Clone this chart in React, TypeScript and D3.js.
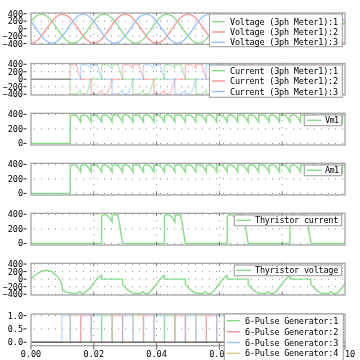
import React from "react";
import * as d3 from "d3";

// ---------------- data ----------------
const timeTicks = [0, 0.02, 0.04, 0.06, 0.08, 0.1];
const timeTickLabels = ["0.00", "0.02", "0.04", "0.06", "0.08", "0.10"];

// three-phase voltages, read every 1/600 s (30 electrical degrees)
const voltageStep = 1 / 600;
const voltage1 = [
  195, 338, 390, 338, 195, 0, -195, -338, -390, -338, -195, 0,
  195, 338, 390, 338, 195, 0, -195, -338, -390, -338, -195, 0,
  195, 338, 390, 338, 195, 0, -195, -338, -390, -338, -195, 0,
  195, 338, 390, 338, 195, 0, -195, -338, -390, -338, -195, 0,
  195, 338, 390, 338, 195, 0, -195, -338, -390, -338, -195, 0,
  195,
];
const voltage2 = [
  -390, -338, -195, 0, 195, 338, 390, 338, 195, 0, -195, -338,
  -390, -338, -195, 0, 195, 338, 390, 338, 195, 0, -195, -338,
  -390, -338, -195, 0, 195, 338, 390, 338, 195, 0, -195, -338,
  -390, -338, -195, 0, 195, 338, 390, 338, 195, 0, -195, -338,
  -390, -338, -195, 0, 195, 338, 390, 338, 195, 0, -195, -338,
  -390,
];
const voltage3 = [
  195, 0, -195, -338, -390, -338, -195, 0, 195, 338, 390, 338,
  195, 0, -195, -338, -390, -338, -195, 0, 195, 338, 390, 338,
  195, 0, -195, -338, -390, -338, -195, 0, 195, 338, 390, 338,
  195, 0, -195, -338, -390, -338, -195, 0, 195, 338, 390, 338,
  195, 0, -195, -338, -390, -338, -195, 0, 195, 338, 390, 338,
  195,
];

// rectifier timing
const firstPulseTime = 0.0098;
const conductionStart = 0.0125;
const pulseInterval = 1 / 300;
const segmentCount = 27;
const gateOrder = [3, 4, 5, 6, 1, 2];

// one 60-degree interval of output ripple (fraction of interval -> value)
const scallopFrac = [0, 0.12, 0.25, 0.4, 0.55, 0.7, 0.85, 1];
const loadScallop = [376, 388, 394, 393, 382, 361, 331, 294];
const blockEndScallop = [376, 388, 394, 393, 378, 280, 130, 0];

// sign of each phase current in each 60-degree interval
const current1Signs = [-1, -1, 0, 1, 1, 0, -1, -1, 0, 1, 1, 0, -1, -1, 0, 1, 1, 0, -1, -1, 0, 1, 1, 0, -1, -1, 0];
const current2Signs = [1, 0, -1, -1, 0, 1, 1, 0, -1, -1, 0, 1, 1, 0, -1, -1, 0, 1, 1, 0, -1, -1, 0, 1, 1, 0, -1];
const current3Signs = [0, 1, 1, 0, -1, -1, 0, 1, 1, 0, -1, -1, 0, 1, 1, 0, -1, -1, 0, 1, 1, 0, -1, -1, 0, 1, 1];

// thyristor voltage before first firing
const thyPreTime = [0, 0.00167, 0.00333, 0.005, 0.00667, 0.0083, 0.0097, 0.0101, 0.0115, 0.013, 0.0145, 0.0154, 0.0166, 0.0188, 0.0209, 0.0224];
const thyPreVolt = [10, 130, 210, 235, 200, 80, -90, -300, -350, -375, -380, -330, -390, -240, 0, 100];
// blocking interval after turn-off (ms after turn-off -> value)
const thyOffMs = [0, 0.96, 1.78, 2.87, 3.92, 5.1, 6.05, 6.37, 7.0, 7.64, 8.6, 9.75, 10.8, 11.9, 13.15, 13.3];
const thyOffVolt = [-140, -230, -300, -350, -375, -385, -360, -330, -370, -390, -350, -240, -130, 0, 100, 100];
const thyFirings = [0.0225, 0.0425, 0.0625, 0.0825];

const green = "#88dd88";
const red = "#ff9494";
const blue = "#94c2ff";
const gateColors = ["#88dd88", "#ff9494", "#94c2ff", "#dcc88c", "#ff88c8", "#80e0e0"];

// ---------------- series builders ----------------
type Pt = [number, number];
const segStart = (k: number) => conductionStart + k * pulseInterval;

function sampled(values: number[]): Pt[] {
  return values.map((v, i) => [i * voltageStep, v] as Pt);
}

function loadSeries(): Pt[] {
  const pts: Pt[] = [[0, 0], [segStart(0), 0]];
  for (let k = 0; k < segmentCount; k++) {
    scallopFrac.forEach((f, j) => pts.push([segStart(k) + f * pulseInterval, loadScallop[j]]));
  }
  return pts;
}

function phaseCurrent(signs: number[]): Pt[] {
  const pts: Pt[] = [[0, 0], [segStart(0), 0]];
  for (let k = 0; k < signs.length; k++) {
    const s = signs[k];
    const t0 = segStart(k);
    if (s === 0) {
      pts.push([t0, 0], [t0 + pulseInterval, 0]);
      continue;
    }
    if (k === 0 || signs[k - 1] !== s) pts.push([t0, 0]);
    const isEnd = k + 1 >= signs.length || signs[k + 1] !== s;
    const tpl = isEnd ? blockEndScallop : loadScallop;
    scallopFrac.forEach((f, j) => pts.push([t0 + f * pulseInterval, s * tpl[j]]));
  }
  return pts;
}

function thyristorCurrent(): Pt[] {
  const pts: Pt[] = [[0, 0]];
  thyFirings.forEach((f) => {
    pts.push([f, 0]);
    scallopFrac.forEach((fr, j) => pts.push([f + fr * pulseInterval, loadScallop[j]]));
    scallopFrac.forEach((fr, j) => pts.push([f + (1 + fr) * pulseInterval, blockEndScallop[j]]));
  });
  pts.push([0.11, 0]);
  return pts;
}

function thyristorVoltage(): Pt[] {
  const pts: Pt[] = thyPreTime.map((t, i) => [t, thyPreVolt[i]] as Pt);
  thyFirings.forEach((f) => {
    const off = f + 2 * pulseInterval;
    pts.push([f, 0], [off, 0]);
    thyOffMs.forEach((ms, j) => pts.push([off + ms / 1000, thyOffVolt[j]]));
  });
  return pts;
}

function gateSeries(gate: number): Pt[] {
  const rises = [firstPulseTime];
  for (let k = 0; k < segmentCount; k++) rises.push(segStart(k));
  const pts: Pt[] = [[0, 0]];
  rises.forEach((r, i) => {
    if (gateOrder[i % 6] !== gate) return;
    const fall = i + 1 < rises.length ? rises[i + 1] : 0.11;
    pts.push([r, 0], [r, 1], [fall, 1], [fall, 0]);
  });
  pts.push([0.11, 0]);
  return pts;
}

// ---------------- layout ----------------
const X0 = 31;
const X1 = 345;
const x = d3.scaleLinear().domain([0, 0.1]).range([X0, X1]);
const FONT = "'DejaVu Sans Mono', 'Liberation Mono', monospace";

type Series = { pts: Pt[]; color: string; curve?: d3.CurveFactory; blend?: boolean };
type Legend = { x: number; y: number; w: number; h: number; rowY: number[]; lineX: [number, number]; textX: number; labels: string[]; colors: string[] };
type Panel = {
  top: number;
  bottom: number;
  domain: [number, number];
  ticks: number[];
  tickLabels: string[];
  series: Series[];
  legend: Legend;
};

function PanelView({ p, id }: { p: Panel; id: string }) {
  const y = d3.scaleLinear().domain(p.domain).range([p.bottom, p.top]);
  const frame = "#a4a4a4";
  return (
    <g>
      <defs>
        <clipPath id={id}>
          <rect x={X0} y={p.top} width={X1 - X0} height={p.bottom - p.top} />
        </clipPath>
      </defs>
      <rect x={X0} y={p.top} width={X1 - X0} height={p.bottom - p.top} fill="#fff" />
      {/* grid */}
      {timeTicks.slice(1, -1).map((t) => (
        <line key={"gx" + t} x1={x(t)} x2={x(t)} y1={p.top} y2={p.bottom} stroke="#8a8a8a" strokeWidth={1} strokeDasharray="1,6" />
      ))}
      {p.ticks.map((v) => (
        <line key={"gy" + v} x1={X0} x2={X1} y1={y(v)} y2={y(v)} stroke="#8a8a8a" strokeWidth={1} strokeDasharray="1,6" strokeDashoffset={-3} />
      ))}
      {/* data */}
      <g clipPath={`url(#${id})`} style={{ isolation: "isolate" }}>
        {p.series.map((s, i) => {
          const line = d3
            .line<Pt>()
            .x((d) => x(d[0]))
            .y((d) => y(d[1]))
            .curve(s.curve ?? d3.curveLinear);
          return (
            <path
              key={i}
              d={line(s.pts) ?? ""}
              fill="none"
              stroke={s.color}
              strokeWidth={1.4}
              strokeOpacity={s.blend ? 0.55 : 1}
              style={s.blend ? { mixBlendMode: "multiply" } : undefined}
            />
          );
        })}
      </g>
      {/* frame */}
      <rect x={X0} y={p.top} width={X1 - X0} height={p.bottom - p.top} fill="none" stroke={frame} strokeWidth={1.3} />
      {timeTicks.slice(1, -1).map((t) => (
        <g key={"tt" + t}>
          <line x1={x(t)} x2={x(t)} y1={p.top} y2={p.top + 2.5} stroke="#666" strokeWidth={1} />
          <line x1={x(t)} x2={x(t)} y1={p.bottom} y2={p.bottom - 2.5} stroke="#666" strokeWidth={1} />
        </g>
      ))}
      {/* y axis labels */}
      {p.ticks.map((v, i) => (
        <g key={"yl" + v}>
          <line x1={23.5} x2={26.5} y1={y(v)} y2={y(v)} stroke="#222" strokeWidth={1} />
          <text x={23} y={y(v) + 3} textAnchor="end" fontFamily={FONT} fontSize={8.5} fill="#000">
            {p.tickLabels[i]}
          </text>
        </g>
      ))}
    </g>
  );
}

function LegendView({ l }: { l: Legend }) {
  return (
    <g>
      <rect x={l.x} y={l.y} width={l.w} height={l.h} fill="#fff" stroke="#a8a8a8" strokeWidth={1.2} />
      {l.labels.map((lab, i) => (
        <g key={i}>
          <line x1={l.lineX[0]} x2={l.lineX[1]} y1={l.rowY[i]} y2={l.rowY[i]} stroke={l.colors[i]} strokeWidth={1.4} />
          <text
            x={l.textX}
            y={l.rowY[i] + 3}
            fontFamily={FONT}
            fontSize={8.5}
            fill="#000"
            textLength={lab.length * 4.95 - 0.8}
            lengthAdjust="spacing"
          >
            {lab}
          </text>
        </g>
      ))}
    </g>
  );
}

export default function App() {
  const symTicks = [400, 200, 0, -200, -400];
  const symLabels = ["400", "200", "0", "\u2212200", "\u2212400"];
  const posTicks = [400, 200, 0];
  const posLabels = ["400", "200", "0"];

  const loadPts = loadSeries();

  const panels: Panel[] = [
    {
      top: 13, bottom: 44.3, domain: [-420, 420], ticks: symTicks, tickLabels: symLabels,
      series: [
        { pts: sampled(voltage1), color: green, curve: d3.curveNatural },
        { pts: sampled(voltage2), color: red, curve: d3.curveNatural },
        { pts: sampled(voltage3), color: blue, curve: d3.curveNatural },
      ],
      legend: {
        x: 209.5, y: 14, w: 132.8, h: 32.7, rowY: [21.7, 32, 42.3], lineX: [212, 225], textX: 230,
        labels: ["Voltage (3ph Meter1):1", "Voltage (3ph Meter1):2", "Voltage (3ph Meter1):3"],
        colors: [green, red, blue],
      },
    },
    {
      top: 63.5, bottom: 95, domain: [-420, 420], ticks: symTicks, tickLabels: symLabels,
      series: [
        { pts: phaseCurrent(current1Signs), color: green, blend: true },
        { pts: phaseCurrent(current2Signs), color: red, blend: true },
        { pts: phaseCurrent(current3Signs), color: blue, blend: true },
      ],
      legend: {
        x: 209.5, y: 65, w: 132.8, h: 32.3, rowY: [70.7, 81, 91.5], lineX: [212, 225], textX: 230,
        labels: ["Current (3ph Meter1):1", "Current (3ph Meter1):2", "Current (3ph Meter1):3"],
        colors: [green, red, blue],
      },
    },
    {
      top: 113.3, bottom: 145, domain: [-22, 414], ticks: posTicks, tickLabels: posLabels,
      series: [{ pts: loadPts, color: green }],
      legend: { x: 304.3, y: 115, w: 37.4, h: 10.7, rowY: [120.3], lineX: [306.7, 321.7], textX: 325, labels: ["Vm1"], colors: [green] },
    },
    {
      top: 163.3, bottom: 195, domain: [-22, 414], ticks: posTicks, tickLabels: posLabels,
      series: [{ pts: loadPts, color: green }],
      legend: { x: 304.3, y: 165, w: 37.4, h: 10.7, rowY: [170.3], lineX: [306.7, 321.7], textX: 325, labels: ["Am1"], colors: [green] },
    },
    {
      top: 213.3, bottom: 245, domain: [-22, 414], ticks: posTicks, tickLabels: posLabels,
      series: [{ pts: thyristorCurrent(), color: green }],
      legend: { x: 234.3, y: 215, w: 107.4, h: 10.7, rowY: [220.3], lineX: [236.5, 251], textX: 255, labels: ["Thyristor current"], colors: [green] },
    },
    {
      top: 263.3, bottom: 295, domain: [-420, 420], ticks: symTicks, tickLabels: symLabels,
      series: [{ pts: thyristorVoltage(), color: green }],
      legend: { x: 234.3, y: 265, w: 107.4, h: 10.7, rowY: [270.3], lineX: [236.5, 251], textX: 255, labels: ["Thyristor voltage"], colors: [green] },
    },
    {
      top: 314, bottom: 345.7, domain: [-0.13, 1.06], ticks: [1, 0.5, 0], tickLabels: ["1.0", "0.5", "0.0"],
      series: [1, 2, 3, 4, 5, 6].map((g) => ({ pts: gateSeries(g), color: gateColors[g - 1], blend: true })),
      legend: {
        x: 224.3, y: 314, w: 119, h: 70, rowY: [320.7, 331.7, 342.5, 353.3], lineX: [226.7, 240], textX: 245,
        labels: ["6-Pulse Generator:1", "6-Pulse Generator:2", "6-Pulse Generator:3", "6-Pulse Generator:4"],
        colors: gateColors.slice(0, 4),
      },
    },
  ];

  const last = panels[panels.length - 1];

  return (
    <svg width={360} height={360} style={{ position: "absolute", left: 0, top: 0, background: "#fff" }}>
      <rect x={0} y={0} width={360} height={360} fill="#fff" />
      {panels.map((p, i) => (
        <PanelView key={i} p={p} id={"clip" + i} />
      ))}
      {/* time axis */}
      {timeTicks.map((t, i) => (
        <g key={"xt" + t}>
          <line x1={x(t)} x2={x(t)} y1={last.bottom} y2={last.bottom + 4} stroke="#666" strokeWidth={1} />
          <text x={x(t)} y={356.8} textAnchor="middle" fontFamily={FONT} fontSize={8.5} fill="#000">
            {timeTickLabels[i]}
          </text>
        </g>
      ))}
      {panels.map((p, i) => (
        <LegendView key={"lg" + i} l={p.legend} />
      ))}
    </svg>
  );
}
